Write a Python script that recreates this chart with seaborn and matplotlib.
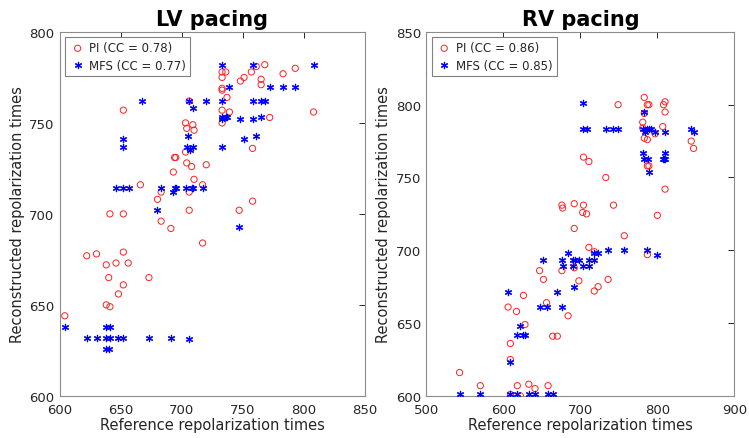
import matplotlib
matplotlib.use("Agg")
import matplotlib.pyplot as plt
import pandas as pd
import seaborn as sns

# LV pacing: (reference, reconstructed)
lv_pi_ref = [652, 706, 703, 709, 704, 710, 761, 768, 793, 733, 736, 757, 783, 733, 751, 748,
             765, 765, 733, 733, 737, 733, 739, 808, 733, 772, 758, 720, 703, 694, 695, 704,
             708, 693, 710, 666, 717, 683, 706, 680, 706, 641, 652, 683, 691, 717, 652, 622,
             630, 638, 646, 656, 640, 673, 652, 648, 638, 641, 604, 758, 747, 652]
lv_pi_rec = [757, 762, 750, 749, 747, 746, 781, 782, 780, 778, 778, 778, 777, 775, 775, 773,
             774, 771, 769, 768, 764, 757, 756, 756, 750, 753, 736, 727, 734, 731, 731, 728,
             726, 723, 719, 716, 716, 712, 712, 708, 702, 700, 700, 696, 692, 684, 679, 677,
             678, 672, 673, 673, 665, 665, 661, 656, 650, 649, 644, 707, 702, 781]
lv_mfs_ref = [667, 706, 720, 709, 705, 652, 652, 704, 709, 707, 733, 758, 808, 739, 772, 783,
              793, 733, 758, 765, 768, 733, 736, 737, 733, 748, 758, 765, 761, 751, 733, 646,
              652, 657, 683, 694, 695, 693, 703, 708, 709, 717, 680, 747, 604, 638, 641, 622,
              630, 638, 641, 648, 652, 673, 691, 706, 638, 640]
lv_mfs_rec = [762, 762, 762, 758, 743, 741, 737, 737, 737, 735, 782, 782, 782, 770, 770, 770,
              770, 762, 762, 762, 762, 753, 753, 753, 752, 752, 752, 753, 743, 741, 737, 714,
              714, 714, 714, 714, 714, 712, 714, 714, 714, 714, 702, 693, 638, 638, 638, 632,
              632, 632, 632, 632, 632, 632, 632, 631, 626, 626]

# RV pacing: (reference, reconstructed)
rv_pi_ref = [749, 783, 787, 789, 810, 808, 810, 783, 781, 781, 807, 783, 787, 797, 844, 847,
             704, 711, 787, 789, 733, 810, 676, 677, 692, 704, 743, 703, 708, 800, 692, 757,
             711, 718, 787, 676, 692, 736, 698, 723, 718, 684, 647, 652, 626, 656, 606, 617,
             628, 664, 670, 609, 609, 543, 570, 618, 633, 641, 658, 609, 622]
rv_pi_rec = [800, 805, 800, 800, 802, 800, 795, 794, 788, 784, 785, 777, 776, 780, 775, 770,
             764, 761, 758, 758, 750, 742, 731, 729, 732, 731, 731, 726, 725, 724, 715, 710,
             702, 699, 697, 686, 688, 680, 679, 675, 672, 655, 686, 680, 669, 664, 661, 658,
             649, 641, 641, 636, 625, 616, 607, 607, 608, 605, 607, 601, 600]
rv_mfs_ref = [704, 783, 704, 708, 733, 743, 749, 781, 786, 789, 792, 797, 810, 844, 847, 784,
              781, 810, 783, 788, 807, 808, 810, 789, 684, 718, 723, 736, 757, 787, 800, 676,
              690, 693, 698, 711, 718, 652, 677, 690, 704, 711, 692, 676, 606, 670, 647, 656,
              622, 617, 626, 628, 609, 543, 570, 609, 618, 633, 641, 658, 664]
rv_mfs_rec = [801, 795, 783, 783, 783, 783, 783, 783, 783, 783, 783, 781, 781, 783, 781, 781,
              767, 767, 763, 763, 763, 763, 763, 754, 698, 698, 698, 700, 700, 700, 697, 693,
              693, 693, 693, 693, 693, 693, 689, 689, 689, 689, 675, 661, 671, 671, 661, 661,
              648, 642, 642, 642, 623, 601, 601, 601, 601, 601, 601, 601, 601]

panels = [
    {"title": "LV pacing", "cc": ("0.78", "0.77"),
     "pi": (lv_pi_ref, lv_pi_rec), "mfs": (lv_mfs_ref, lv_mfs_rec),
     "xlim": (600, 850), "ylim": (600, 800), "xticks": [600, 650, 700, 750, 800, 850],
     "yticks": [600, 650, 700, 750, 800]},
    {"title": "RV pacing", "cc": ("0.86", "0.85"),
     "pi": (rv_pi_ref, rv_pi_rec), "mfs": (rv_mfs_ref, rv_mfs_rec),
     "xlim": (500, 900), "ylim": (600, 850), "xticks": [500, 600, 700, 800, 900],
     "yticks": [600, 650, 700, 750, 800, 850]},
]

sns.set_style("white")
plt.rcParams['font.family'] = ['DejaVu Sans']

fig = plt.figure(figsize=(7.49, 4.39), dpi=100)
axes = [fig.add_axes([0.080, 0.096, 0.407, 0.829]),
        fig.add_axes([0.5694, 0.096, 0.411, 0.829])]

for ax, p in zip(axes, panels):
    pi = pd.DataFrame({"ref": p["pi"][0], "rec": p["pi"][1]})
    mfs = pd.DataFrame({"ref": p["mfs"][0], "rec": p["mfs"][1]})
    sns.scatterplot(data=pi, x="ref", y="rec", ax=ax, marker="o", s=20,
                    facecolor="none", edgecolor="#ff2020", linewidth=0.7,
                    label=f"PI (CC = {p['cc'][0]})", zorder=3)
    sns.scatterplot(data=mfs, x="ref", y="rec", ax=ax, marker=(6, 2, 0), s=20,
                    color="blue", linewidth=0.9,
                    label=f"MFS (CC = {p['cc'][1]})", zorder=3)
    ax.set_xlim(*p["xlim"])
    ax.set_ylim(*p["ylim"])
    ax.set_xticks(p["xticks"])
    ax.set_yticks(p["yticks"])
    ax.set_title(p["title"], fontsize=15, fontweight="bold", pad=5, color="black")
    ax.set_xlabel("Reference repolarization times", fontsize=10.5, color="#262626", labelpad=1)
    ax.set_ylabel("Reconstructed repolarization times", fontsize=10.5, color="#262626", labelpad=3)
    ax.tick_params(direction="in", length=4, width=0.7, top=True, right=True,
                   labelsize=9.5, colors="#262626")
    ax.tick_params(axis="x", pad=5)
    ax.tick_params(axis="y", pad=4)
    for s in ax.spines.values():
        s.set_color("#8c8c8c")
        s.set_linewidth(0.8)
    leg = ax.legend(loc="upper left", fontsize=8.5, frameon=True, fancybox=False,
                    borderpad=0.35, handletextpad=0.3, labelspacing=0.35,
                    borderaxespad=0.45, handlelength=1.4)
    leg.get_frame().set_edgecolor("#808080")
    leg.get_frame().set_linewidth(0.8)
    leg.get_frame().set_alpha(1)

fig.savefig("out.png", dpi=100)
